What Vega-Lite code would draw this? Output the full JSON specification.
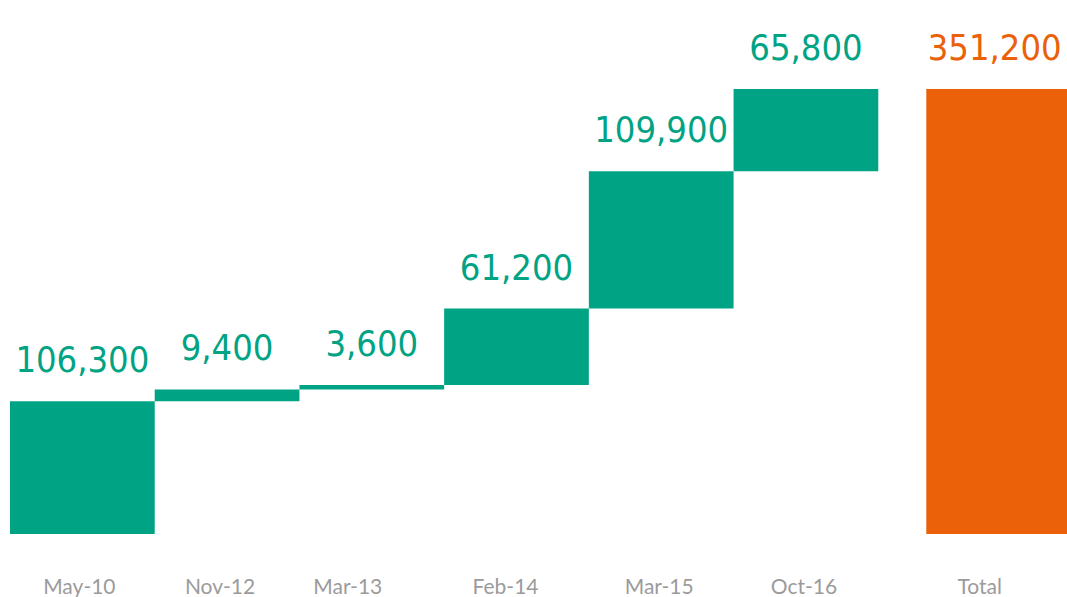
{
  "$schema": "https://vega.github.io/schema/vega-lite/v6.json",
  "width": 1013,
  "height": 534,
  "autosize": "none",
  "padding": {"left": 10, "top": 0, "right": 44, "bottom": 63},
  "background": "white",
  "config": {"view": {"stroke": null}},
  "data": {
    "values": [
      {"cat": "May-10", "start": 0, "end": 106300, "value": 106300, "kind": "step"},
      {"cat": "Nov-12", "start": 106300, "end": 115700, "value": 9400, "kind": "step"},
      {"cat": "Mar-13", "start": 115700, "end": 119300, "value": 3600, "kind": "step"},
      {"cat": "Feb-14", "start": 119300, "end": 180500, "value": 61200, "kind": "step"},
      {"cat": "Mar-15", "start": 180500, "end": 290400, "value": 109900, "kind": "step"},
      {"cat": "Oct-16", "start": 290400, "end": 356200, "value": 65800, "kind": "step"},
      {"cat": "Total", "start": 0, "end": 356200, "value": 351200, "kind": "total"}
    ]
  },
  "encoding": {
    "x": {
      "field": "cat",
      "type": "nominal",
      "scale": {
        "domain": ["May-10", "Nov-12", "Mar-13", "Feb-14", "Mar-15", "Oct-16", "Total"],
        "paddingInner": 0,
        "paddingOuter": 0
      },
      "axis": {
        "title": null,
        "domain": false,
        "ticks": false,
        "tickSize": 0,
        "grid": false,
        "labelAngle": 0,
        "labelPadding": 59,
        "labelBaseline": "alphabetic",
        "labelFont": "Lato",
        "labelFontSize": 21,
        "labelColor": "#9b9b9b",
        "labelOverlap": false,
        "labelBound": false,
        "labelOffset": {
          "condition": [
            {"test": "datum.label === 'Total'", "value": 29},
            {"test": "datum.label === 'Mar-13'", "value": -24},
            {"test": "datum.label === 'Feb-14'", "value": -11},
            {"test": "datum.label === 'Nov-12'", "value": -7},
            {"test": "datum.label === 'May-10'", "value": -3}
          ],
          "value": -2
        }
      }
    },
    "y": {
      "field": "start",
      "type": "quantitative",
      "scale": {"domain": [0, 427500], "nice": false, "zero": false},
      "axis": null
    }
  },
  "layer": [
    {
      "transform": [{"filter": "datum.kind === 'step'"}],
      "mark": {"type": "bar", "color": "#00a383", "stroke": null},
      "encoding": {"y2": {"field": "end"}}
    },
    {
      "transform": [{"filter": "datum.kind === 'total'"}],
      "mark": {"type": "bar", "color": "#eb610a", "xOffset": 48},
      "encoding": {"y2": {"field": "end"}}
    },
    {
      "transform": [{"filter": "datum.kind === 'step'"}],
      "mark": {"type": "text", "baseline": "alphabetic", "dy": -29, "font": "DejaVu Sans Condensed", "fontSize": 36, "color": "#00a383"},
      "encoding": {
        "y": {"field": "end", "type": "quantitative"},
        "text": {"field": "value", "type": "quantitative", "format": ","}
      }
    },
    {
      "transform": [{"filter": "datum.kind === 'total'"}],
      "mark": {"type": "text", "baseline": "alphabetic", "dy": -29, "xOffset": 44, "font": "DejaVu Sans Condensed", "fontSize": 36, "color": "#eb610a"},
      "encoding": {
        "y": {"field": "end", "type": "quantitative"},
        "text": {"field": "value", "type": "quantitative", "format": ","}
      }
    }
  ]
}
